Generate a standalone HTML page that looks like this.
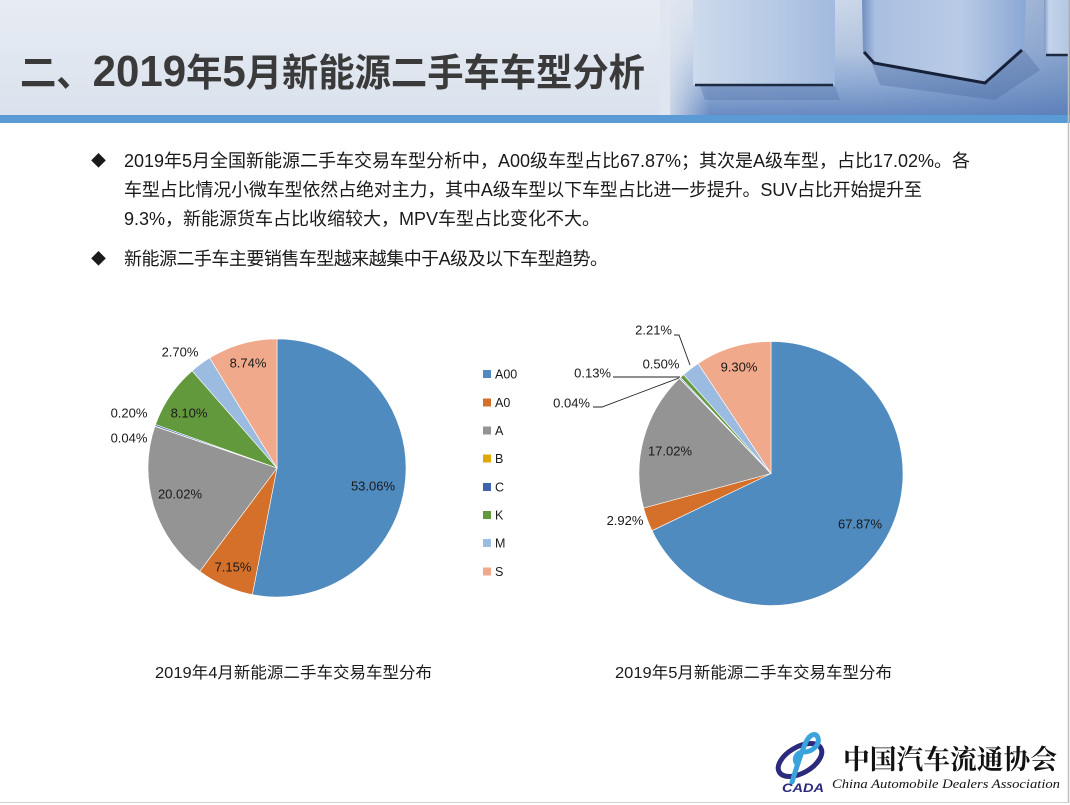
<!DOCTYPE html>
<html>
<head>
<meta charset="utf-8">
<style>
  html,body{margin:0;padding:0;background:#fff;}
  body{width:1070px;height:805px;overflow:hidden;}
  svg{display:block;}
  .t{font-family:"Liberation Sans","Noto Sans CJK SC",sans-serif;}
</style>
</head>
<body>
<svg width="1070" height="805" viewBox="0 0 1070 805" xmlns="http://www.w3.org/2000/svg">
  <defs>
    <linearGradient id="hdr" x1="0" y1="0" x2="0" y2="1">
      <stop offset="0" stop-color="#e7ecf3"/>
      <stop offset="1" stop-color="#dae2ed"/>
    </linearGradient>
    <linearGradient id="imgV" x1="0" y1="0" x2="0" y2="1">
      <stop offset="0" stop-color="#dde5f0"/>
      <stop offset="0.45" stop-color="#c0cfe6"/>
      <stop offset="0.75" stop-color="#93aed6"/>
      <stop offset="1" stop-color="#6a8cc3"/>
    </linearGradient>
    <linearGradient id="imgH" x1="0" y1="0" x2="1" y2="0">
      <stop offset="0" stop-color="#5a7db6" stop-opacity="0"/>
      <stop offset="0.5" stop-color="#5a7db6" stop-opacity="0.15"/>
      <stop offset="1" stop-color="#4f74b0" stop-opacity="0.5"/>
    </linearGradient>
    <linearGradient id="fadeL" x1="0" y1="0" x2="1" y2="0">
      <stop offset="0" stop-color="#e0e6ef" stop-opacity="1"/>
      <stop offset="1" stop-color="#e0e6ef" stop-opacity="0"/>
    </linearGradient>
    <linearGradient id="box1" x1="0" y1="0" x2="1" y2="0">
      <stop offset="0" stop-color="#cddaec"/>
      <stop offset="0.6" stop-color="#b5c9e5"/>
      <stop offset="1" stop-color="#a2badf"/>
    </linearGradient>
    <linearGradient id="box2" x1="0" y1="0" x2="1" y2="0">
      <stop offset="0" stop-color="#6f8ec0"/>
      <stop offset="0.08" stop-color="#a9bfe0"/>
      <stop offset="0.6" stop-color="#b9cbe6"/>
      <stop offset="1" stop-color="#8aa7d4"/>
    </linearGradient>
    <linearGradient id="box3" x1="0" y1="0" x2="1" y2="0">
      <stop offset="0" stop-color="#7d99c7"/>
      <stop offset="0.2" stop-color="#c3d3ea"/>
      <stop offset="1" stop-color="#b3c7e4"/>
    </linearGradient>
  </defs>

  <!-- Header -->
  <rect x="0" y="0" width="1070" height="115" fill="url(#hdr)"/>
  <rect x="670" y="0" width="400" height="115" fill="url(#imgV)"/>
  <rect x="670" y="0" width="400" height="115" fill="url(#imgH)"/>
  <rect x="660" y="0" width="50" height="115" fill="url(#fadeL)"/>
  <!-- shadows under boxes -->
  <path d="M700,86 L835,86 L840,100 L705,100 Z" fill="#4f6fa6" opacity="0.35"/>
  <path d="M872,64 L985,85 L1024,50 L1040,70 L995,100 L880,85 Z" fill="#3f5f98" opacity="0.3"/>
  <!-- box 1 -->
  <rect x="693" y="0" width="142" height="85" fill="url(#box1)"/>
  <path d="M695,85 L833,85" stroke="#1e2a42" stroke-width="2.5"/>
  <!-- box 2 -->
  <path d="M862,0 L1026,0 L1024,48 L988,83 L968,80 L872,62 L863,52 Z" fill="url(#box2)"/>
  <path d="M864,52 L874,63 L985,83 L1022,50" fill="none" stroke="#18213a" stroke-width="3"/>
  <!-- box 3 -->
  <rect x="1044" y="0" width="25" height="55" fill="url(#box3)"/>
  <path d="M1046,55 L1069,55" stroke="#1e2a42" stroke-width="2.5"/>

  <!-- Title -->
  <text class="t" x="20" y="86" font-size="38" font-weight="bold" fill="#3a3a3a" textLength="625" lengthAdjust="spacingAndGlyphs">二、<tspan font-size="44">2019</tspan>年<tspan font-size="44">5</tspan>月新能源二手车车型分析</text>

  <!-- Blue bar -->
  <rect x="0" y="115" width="1070" height="8" fill="#5b9bd5"/>

  <!-- Body text -->
  <g class="t" font-size="18" fill="#1a1a1a">
    <text x="91" y="166" font-size="15">◆</text>
    <text x="124" y="167" textLength="846" lengthAdjust="spacing">2019年5月全国新能源二手车交易车型分析中，A00级车型占比67.87%；其次是A级车型，占比17.02%。各</text>
    <text x="124" y="196" textLength="798" lengthAdjust="spacing">车型占比情况小微车型依然占绝对主力，其中A级车型以下车型占比进一步提升。SUV占比开始提升至</text>
    <text x="124" y="225">9.3%，新能源货车占比收缩较大，MPV车型占比变化不大。</text>
    <text x="91" y="264" font-size="15">◆</text>
    <text x="124" y="265" textLength="484" lengthAdjust="spacing">新能源二手车主要销售车型越来越集中于A级及以下车型趋势。</text>
  </g>

  <!-- Left pie -->
  <g stroke="#ffffff" stroke-width="0.6">
    <path d="M277,468 L277,339 A129,129 0 1,1 252.35,594.62 Z" fill="#4f8bbe"/>
    <path d="M277,468 L252.35,594.62 A129,129 0 0,1 199.81,571.36 Z" fill="#d5702b"/>
    <path d="M277,468 L199.81,571.36 A129,129 0 0,1 154.90,426.37 Z" fill="#949494"/>
    <path d="M277,468 L154.90,426.37 A129,129 0 0,1 155.01,426.07 Z" fill="#e0a800"/>
    <path d="M277,468 L155.01,426.07 A129,129 0 0,1 155.55,424.53 Z" fill="#3e64ae"/>
    <path d="M277,468 L155.55,424.53 A129,129 0 0,1 192.11,370.86 Z" fill="#63993d"/>
    <path d="M277,468 L192.11,370.86 A129,129 0 0,1 209.73,357.93 Z" fill="#9cbbe1"/>
    <path d="M277,468 L209.73,357.93 A129,129 0 0,1 277,339 Z" fill="#f1a98b"/>
  </g>
  <g class="t" font-size="13" fill="#1a1a1a" text-anchor="middle">
    <text x="373" y="490.5">53.06%</text>
    <text x="233" y="571.5">7.15%</text>
    <text x="180" y="498.5">20.02%</text>
    <text x="129" y="442.5">0.04%</text>
    <text x="129" y="417.5">0.20%</text>
    <text x="189" y="417.5">8.10%</text>
    <text x="180" y="356.5">2.70%</text>
    <text x="248" y="367.5">8.74%</text>
  </g>

  <!-- Legend -->
  <g>
    <rect x="483" y="370" width="8" height="8" fill="#4f8bbe"/>
    <rect x="483" y="398.5" width="8" height="8" fill="#d5702b"/>
    <rect x="483" y="426.5" width="8" height="8" fill="#949494"/>
    <rect x="483" y="454.5" width="8" height="8" fill="#e0a800"/>
    <rect x="483" y="483" width="8" height="8" fill="#3e64ae"/>
    <rect x="483" y="511" width="8" height="8" fill="#63993d"/>
    <rect x="483" y="539" width="8" height="8" fill="#9cbbe1"/>
    <rect x="483" y="567.5" width="8" height="8" fill="#f1a98b"/>
  </g>
  <g class="t" font-size="12.5" fill="#1a1a1a">
    <text x="495" y="378.5">A00</text>
    <text x="495" y="407">A0</text>
    <text x="495" y="435">A</text>
    <text x="495" y="463">B</text>
    <text x="495" y="491.5">C</text>
    <text x="495" y="519.5">K</text>
    <text x="495" y="547.5">M</text>
    <text x="495" y="576">S</text>
  </g>

  <!-- Right pie -->
  <g stroke="#ffffff" stroke-width="0.6">
    <path d="M771,473.5 L771,341.5 A132,132 0 1,1 652.03,530.68 Z" fill="#4f8bbe"/>
    <path d="M771,473.5 L652.03,530.68 A132,132 0 0,1 643.59,508.01 Z" fill="#d5702b"/>
    <path d="M771,473.5 L643.59,508.01 A132,132 0 0,1 679.50,378.36 Z" fill="#949494"/>
    <path d="M771,473.5 L679.50,378.36 A132,132 0 0,1 679.73,378.14 Z" fill="#e0a800"/>
    <path d="M771,473.5 L679.73,378.14 A132,132 0 0,1 680.52,377.39 Z" fill="#3e64ae"/>
    <path d="M771,473.5 L680.52,377.39 A132,132 0 0,1 683.58,374.59 Z" fill="#63993d"/>
    <path d="M771,473.5 L683.58,374.59 A132,132 0 0,1 698.11,363.44 Z" fill="#9cbbe1"/>
    <path d="M771,473.5 L698.11,363.44 A132,132 0 0,1 771,341.5 Z" fill="#f1a98b"/>
  </g>
  <!-- leader lines -->
  <g fill="none" stroke="#222" stroke-width="0.9">
    <polyline points="674,335 679,335 690,365"/>
    <polyline points="613,377 680,377"/>
    <polyline points="593,407 602,407 679,378"/>
  </g>
  <g class="t" font-size="13" fill="#1a1a1a" text-anchor="middle">
    <text x="860" y="528.5">67.87%</text>
    <text x="625" y="525">2.92%</text>
    <text x="670" y="455.5">17.02%</text>
    <text x="739" y="371.5">9.30%</text>
    <text x="661" y="368.5">0.50%</text>
  </g>
  <g class="t" font-size="13" fill="#1a1a1a" text-anchor="end">
    <text x="672" y="334.5">2.21%</text>
    <text x="611" y="377.5">0.13%</text>
    <text x="590" y="407.5">0.04%</text>
  </g>

  <!-- Captions -->
  <g class="t" font-size="16" fill="#1a1a1a">
    <text x="155" y="678" textLength="277" lengthAdjust="spacingAndGlyphs">2019年4月新能源二手车交易车型分布</text>
    <text x="615" y="678" textLength="277" lengthAdjust="spacingAndGlyphs">2019年5月新能源二手车交易车型分布</text>
  </g>

  <!-- Logo -->
  <g>
    <ellipse cx="800" cy="760" rx="24" ry="13" transform="rotate(-30 800 760)" fill="none" stroke="#2b2a7c" stroke-width="5"/>
    <path d="M792,782 C796,770 800,755 806,742 C810,734 816,732 818,738 C820,745 812,752 804,752 C797,752 793,758 797,764" fill="none" stroke="#3aa3db" stroke-width="5" stroke-linecap="round"/>
    <text x="782" y="792" font-family="Liberation Sans, sans-serif" font-size="12" font-weight="bold" font-style="italic" fill="#2b2a7c" textLength="42" lengthAdjust="spacingAndGlyphs">CADA</text>
  </g>
  <text x="843" y="769" font-family="Liberation Serif, 'Noto Serif CJK SC', serif" font-size="27" font-weight="bold" fill="#111" textLength="214" lengthAdjust="spacingAndGlyphs">中国汽车流通协会</text>
  <text x="832" y="788" font-family="Liberation Serif, serif" font-size="13" font-style="italic" fill="#111" textLength="228" lengthAdjust="spacingAndGlyphs">China Automobile Dealers Association</text>

  <!-- Slide border -->
  <line x1="1068.5" y1="0" x2="1068.5" y2="803" stroke="#bfbfbf" stroke-width="1.5"/>
  <line x1="0" y1="802.5" x2="1069" y2="802.5" stroke="#d0d0d0" stroke-width="1"/>
</svg>
</body>
</html>
